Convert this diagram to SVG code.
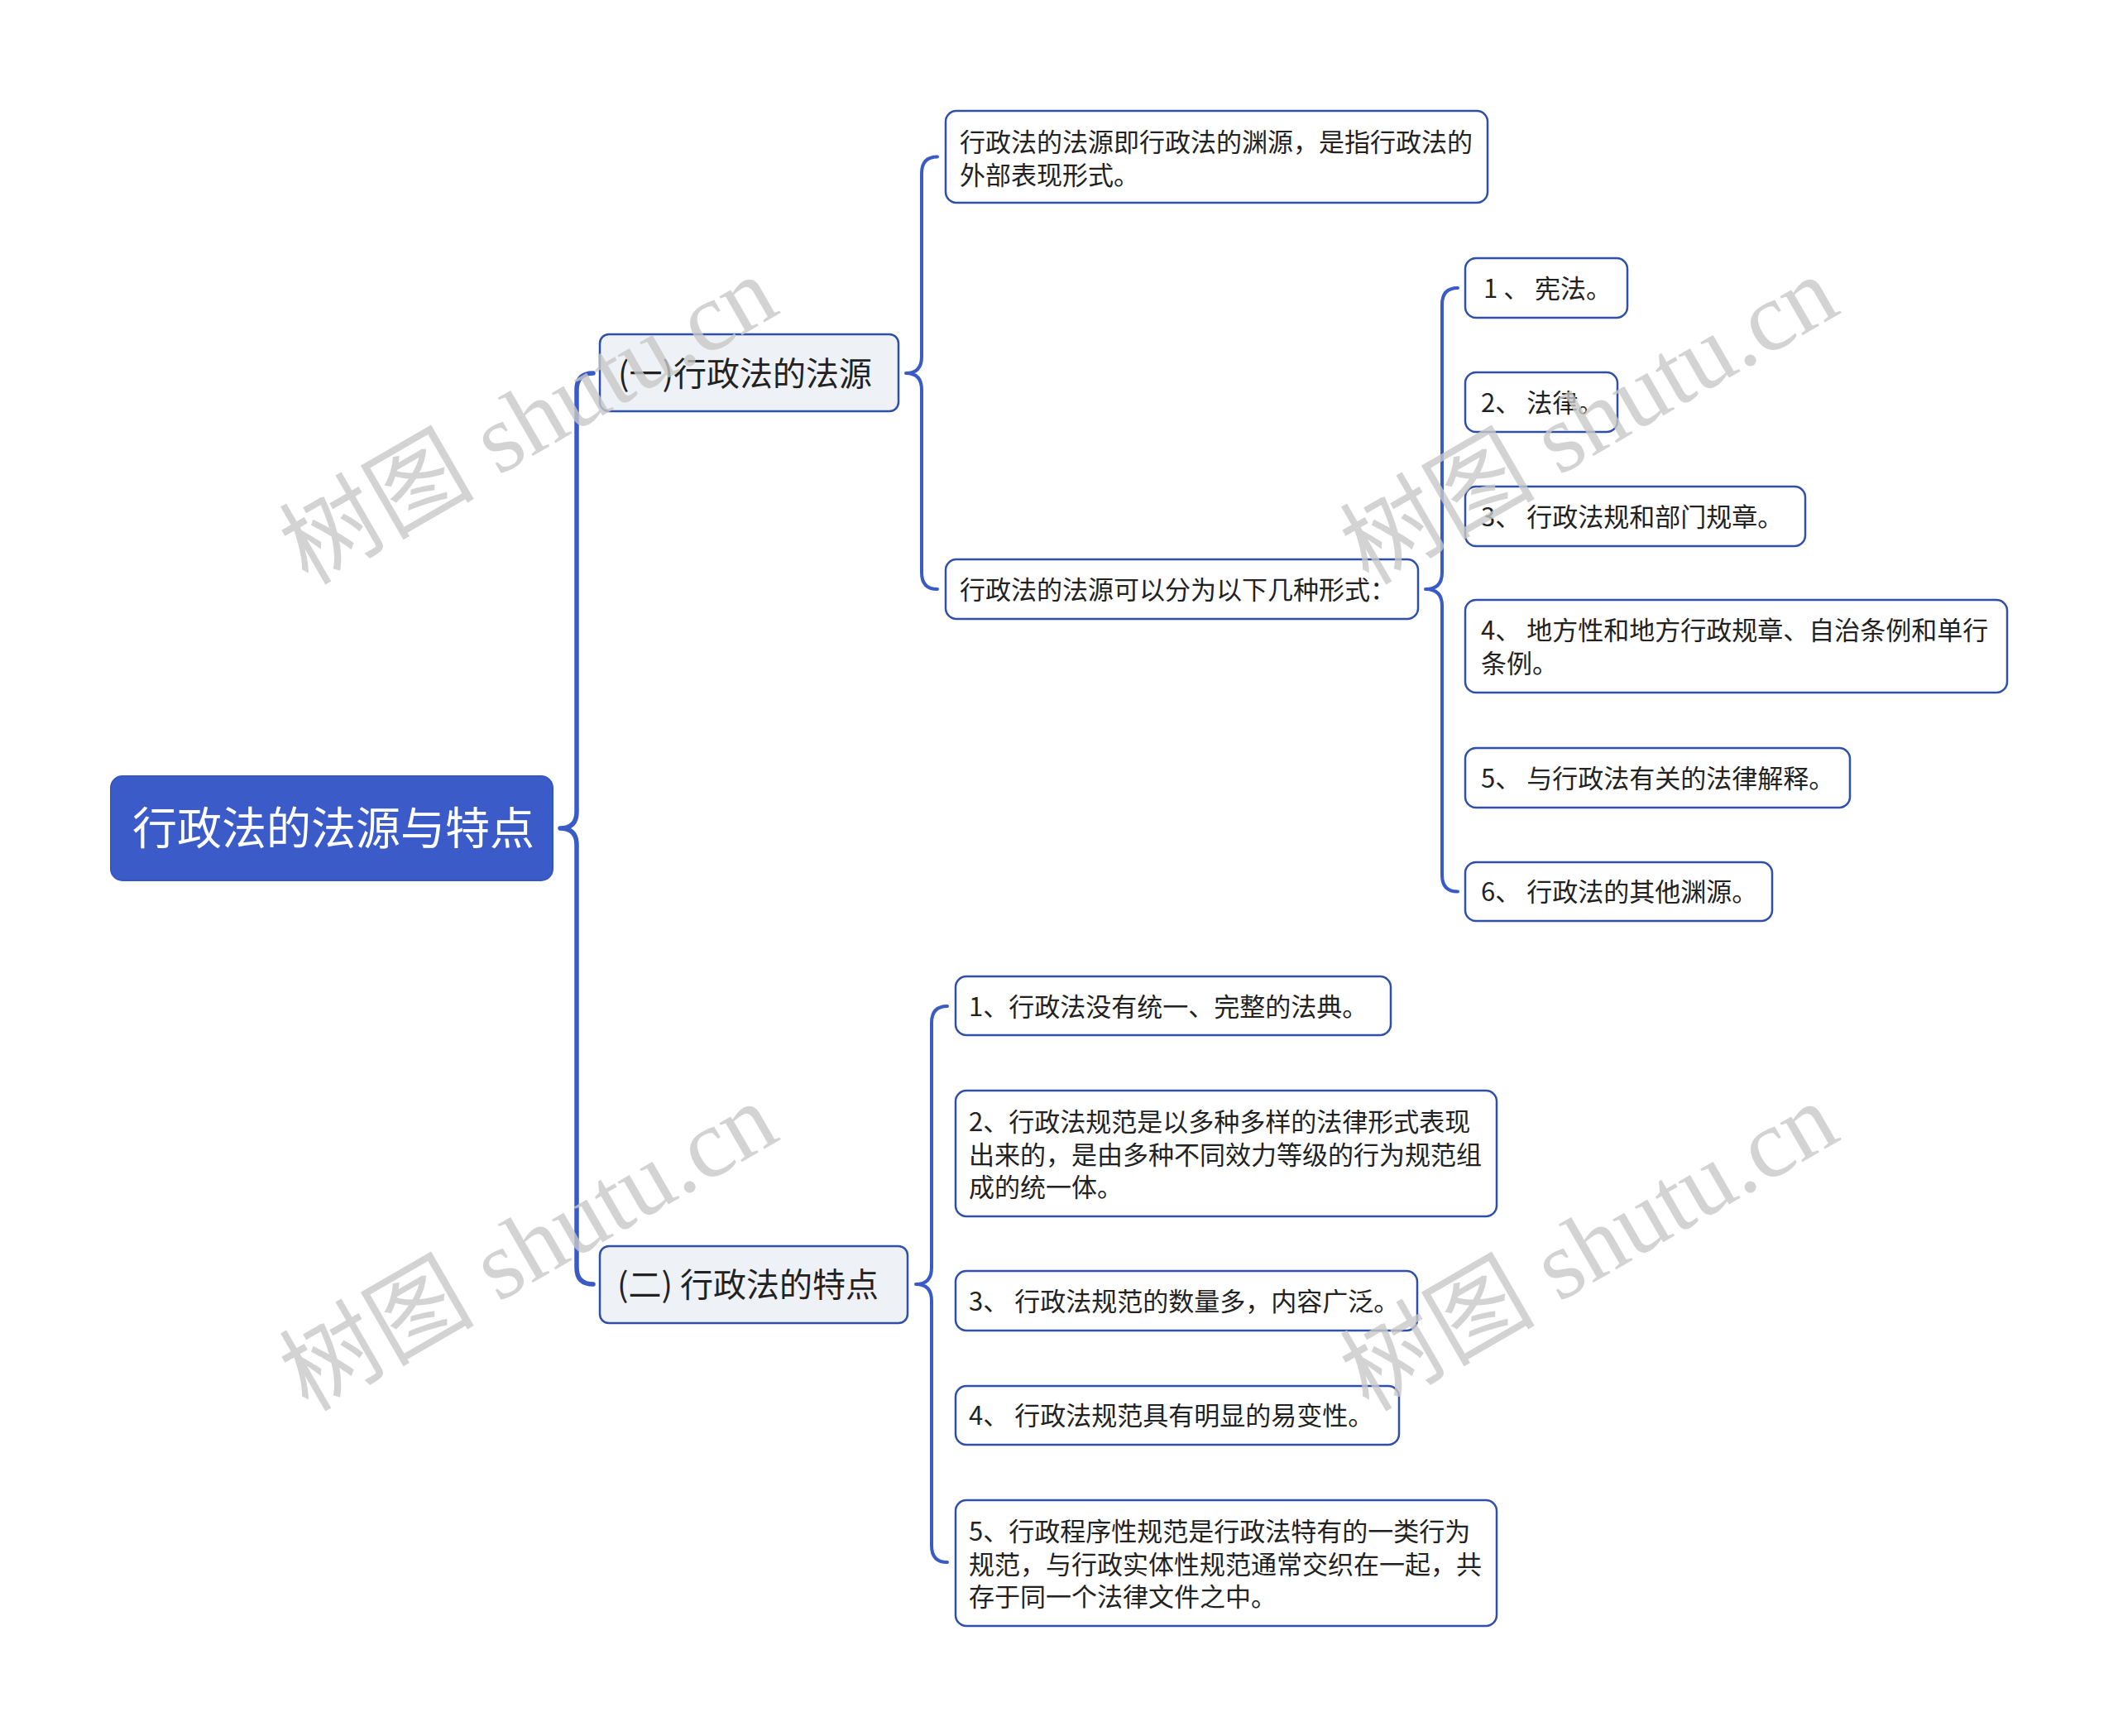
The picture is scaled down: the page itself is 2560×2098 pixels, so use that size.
<svg xmlns="http://www.w3.org/2000/svg" width="2560" height="2098" viewBox="0 0 2560 2098">
<style>
.t{font-family:"Noto Sans CJK SC","Microsoft YaHei",sans-serif;fill:#222;}
.leaf rect{fill:#fff;stroke:#2f4fa8;stroke-width:2.5;}
.leaf text{font-size:31px;}
.branch rect{fill:#eef1f6;stroke:#2f4fa8;stroke-width:2.5;}
.branch text{font-size:40px;}
.root rect{fill:#3a5bc8;stroke:#3656c0;stroke-width:2;}
.root text{font-size:54px;fill:#fff;}
.conn path{fill:none;stroke:#3a5ac6;stroke-linecap:round;stroke-linejoin:round;}
.wm{font-family:"Liberation Serif","Noto Sans CJK SC",serif;font-size:118px;fill:#c8c8c8;fill-opacity:0.8;}
</style>
<rect width="2560" height="2098" fill="#fff"/>
<g id="connectors" class="conn">
<path stroke-width="5.5" d="M717 451 Q697 451 697 471 L697 981 Q697 1001 677 1001 Q697 1001 697 1021 L697 1532 Q697 1552 717 1552"/>
<path stroke-width="4" d="M1133 189.5 Q1114 189.5 1114 209.5 L1114 431 Q1114 451 1095 451 Q1114 451 1114 471 L1114 692 Q1114 712 1133 712"/>
<path stroke-width="4" d="M1762 348 Q1743 348 1743 368 L1743 692 Q1743 712 1723 712 Q1743 712 1743 732 L1743 1057.5 Q1743 1077.5 1762 1077.5"/>
<path stroke-width="4" d="M1145 1216 Q1126 1216 1126 1236 L1126 1532 Q1126 1552 1107 1552 Q1126 1552 1126 1572 L1126 1868 Q1126 1888 1145 1888"/>
</g>
<g id="root" class="root">
<rect x="134" y="938" width="534" height="126" rx="14"/>
<text class="t" x="160" y="1021">行政法的法源与特点</text>
</g>
<g id="branch1" class="branch">
<rect x="725" y="404" width="361" height="93" rx="11"/>
<text class="t" x="747" y="466">(一)行政法的法源</text>
</g>
<g id="branch2" class="branch">
<rect x="725" y="1506" width="372" height="93" rx="11"/>
<text class="t" x="746" y="1567">(二) 行政法的特点</text>
</g>
<g id="s1" class="leaf">
<rect x="1143" y="134" width="655" height="111" rx="13"/>
<text class="t" x="1160" y="182.5">行政法的法源即行政法的渊源，是指行政法的</text>
<text class="t" x="1160" y="222.5">外部表现形式。</text>
</g>
<g id="s2" class="leaf">
<rect x="1143" y="676" width="571" height="72" rx="13"/>
<text class="t" x="1160" y="723.5">行政法的法源可以分为以下几种形式：</text>
</g>
<g id="f1" class="leaf">
<rect x="1771" y="312" width="196" height="72" rx="13"/>
<text class="t" x="1793" y="359.5">1 、 宪法。</text>
</g>
<g id="f2" class="leaf">
<rect x="1771" y="450" width="184" height="72" rx="13"/>
<text class="t" x="1790" y="497.5">2、 法律。</text>
</g>
<g id="f3" class="leaf">
<rect x="1771" y="588" width="411" height="72" rx="13"/>
<text class="t" x="1790" y="635.5">3、 行政法规和部门规章。</text>
</g>
<g id="f4" class="leaf">
<rect x="1771" y="725" width="655" height="112" rx="13"/>
<text class="t" x="1790" y="773">4、 地方性和地方行政规章、自治条例和单行</text>
<text class="t" x="1790" y="813">条例。</text>
</g>
<g id="f5" class="leaf">
<rect x="1771" y="904" width="465" height="72" rx="13"/>
<text class="t" x="1790" y="951.5">5、 与行政法有关的法律解释。</text>
</g>
<g id="f6" class="leaf">
<rect x="1771" y="1042" width="371" height="71" rx="13"/>
<text class="t" x="1790" y="1089">6、 行政法的其他渊源。</text>
</g>
<g id="c1" class="leaf">
<rect x="1155" y="1180" width="526" height="71" rx="13"/>
<text class="t" x="1171" y="1227.5">1、行政法没有统一、完整的法典。</text>
</g>
<g id="c2" class="leaf">
<rect x="1155" y="1318" width="654" height="152" rx="13"/>
<text class="t" x="1171" y="1367">2、行政法规范是以多种多样的法律形式表现</text>
<text class="t" x="1171" y="1406.5">出来的，是由多种不同效力等级的行为规范组</text>
<text class="t" x="1171" y="1446">成的统一体。</text>
</g>
<g id="c3" class="leaf">
<rect x="1155" y="1536" width="558" height="72" rx="13"/>
<text class="t" x="1171" y="1583.5">3、 行政法规范的数量多，内容广泛。</text>
</g>
<g id="c4" class="leaf">
<rect x="1155" y="1675" width="536" height="71" rx="13"/>
<text class="t" x="1171" y="1722">4、 行政法规范具有明显的易变性。</text>
</g>
<g id="c5" class="leaf">
<rect x="1155" y="1813" width="654" height="152" rx="13"/>
<text class="t" x="1171" y="1862">5、行政程序性规范是行政法特有的一类行为</text>
<text class="t" x="1171" y="1901.5">规范，与行政实体性规范通常交织在一起，共</text>
<text class="t" x="1171" y="1941">存于同一个法律文件之中。</text>
</g>
<g id="watermarks">
<text class="wm" transform="translate(372 708) rotate(-30)">树图 shutu.cn</text>
<text class="wm" transform="translate(1654 708) rotate(-30)">树图 shutu.cn</text>
<text class="wm" transform="translate(372 1707) rotate(-30)">树图 shutu.cn</text>
<text class="wm" transform="translate(1654 1707) rotate(-30)">树图 shutu.cn</text>
</g>
</svg>
